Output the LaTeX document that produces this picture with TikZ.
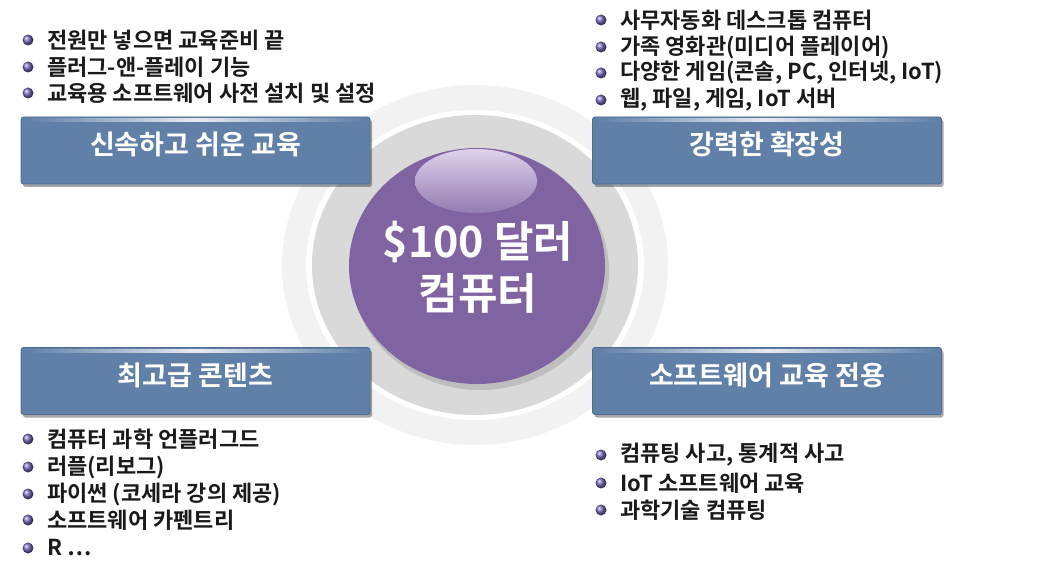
\documentclass[tikz,border=0pt]{standalone}
\usepackage{fontspec}
\setmainfont{Noto Sans CJK KR}[BoldFont={Noto Sans CJK KR Bold}]
\usetikzlibrary{shadows,shapes.geometric}
\definecolor{ringlight}{RGB}{242,242,242}
\definecolor{ringgray}{RGB}{217,217,217}
\definecolor{purplec}{RGB}{128,100,162}
\definecolor{purplehi}{RGB}{222,210,235}
\definecolor{boxc}{RGB}{96,128,168}
\definecolor{boxedge}{RGB}{78,108,148}
\definecolor{bulletc}{RGB}{112,104,184}
\definecolor{textc}{RGB}{26,26,26}
\tikzset{
  titlebox/.style={draw=boxedge, line width=0.8pt, fill=boxc, rounded corners=2.5pt,
    minimum width=349pt, minimum height=67pt, text height=19pt, text depth=11pt,
    text=white, font=\fontsize{27}{30}\selectfont\bfseries,
    drop shadow={shadow xshift=2pt, shadow yshift=-3pt, opacity=0.35, fill=black}},
  listitem/.style={anchor=west, inner sep=0pt, text=textc, font=\fontsize{22}{24}\selectfont\bfseries},
  centertext/.style={align=center, text=white, font=\fontsize{43}{52}\selectfont\bfseries}
}
\newcommand{\bitem}[4]{%
  \shade[ball color=bulletc] (#2-19,#3) circle (5.5pt);
  \node[listitem] (#1) at (#2,#3) {#4};}
\begin{document}
\begin{tikzpicture}[x=1pt,y=-1pt]
\useasboundingbox (0,0) rectangle (1037,564);
% rings
\fill[ringlight] (475,265) ellipse (193pt and 180pt);
\fill[white] (475,265) ellipse (169pt and 155pt);
\fill[ringgray] (475,265) ellipse (163pt and 150pt);
% purple disc
\fill[black, opacity=0.12] (480,271) ellipse (129pt and 119pt);
\node[ellipse, fill=purplec, minimum width=256pt, minimum height=236pt, inner sep=0pt] (core) at (477,266) {};
\shade[top color=purplehi, bottom color=purplec!85!white] (476,181) ellipse (61pt and 32pt);
\node[centertext] (coretext) at (478,267) {\$100 달러\\컴퓨터};
% boxes
\node[titlebox] (b1) at (195.5,150.5) {신속하고 쉬운 교육};
\node[titlebox] (b2) at (767,150.5) {강력한 확장성};
\node[titlebox] (b3) at (195.5,381) {최고급 콘텐츠};
\node[titlebox] (b4) at (767,381) {소프트웨어 교육 전용};
\foreach \b in {b1,b2,b3,b4}{
  \shade[left color=boxc, right color=boxc, middle color=white!85!boxc]
    ([xshift=6pt,yshift=-2pt]\b.north west) rectangle ([xshift=-6pt,yshift=-5pt]\b.north east);
}
% lists
\bitem{l1a}{47}{40}{전원만 넣으면 교육준비 끝}
\bitem{l1b}{47}{67}{플러그-앤-플레이 기능}
\bitem{l1c}{47}{93}{교육용 소프트웨어 사전 설치 및 설정}
\bitem{l2a}{620}{20}{사무자동화 데스크톱 컴퓨터}
\bitem{l2b}{620}{47}{가족 영화관(미디어 플레이어)}
\bitem{l2c}{620}{73}{다양한 게임(콘솔, PC, 인터넷, IoT)}
\bitem{l2d}{620}{100}{웹, 파일, 게임, IoT 서버}
\bitem{l3a}{47}{439}{컴퓨터 과학 언플러그드}
\bitem{l3b}{47}{467}{러플(리보그)}
\bitem{l3c}{47}{494}{파이썬 (코세라 강의 제공)}
\bitem{l3d}{47}{520}{소프트웨어 카펜트리}
\bitem{l3e}{47}{548}{R …}
\bitem{l4a}{620}{455}{컴퓨팅 사고, 통계적 사고}
\bitem{l4b}{620}{483}{IoT 소프트웨어 교육}
\bitem{l4c}{620}{510}{과학기술 컴퓨팅}
\end{tikzpicture}
\end{document}
